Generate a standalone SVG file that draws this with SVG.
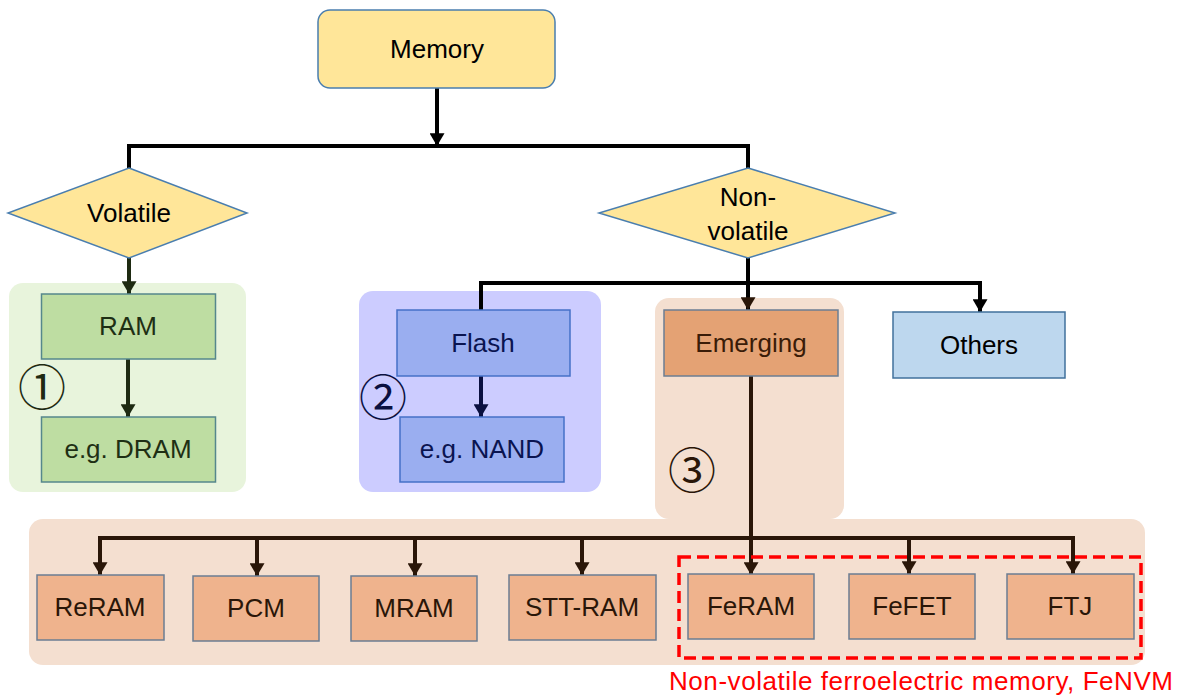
<svg xmlns="http://www.w3.org/2000/svg" width="1182" height="696" viewBox="0 0 1182 696">
<defs>
<style>
.t{font-family:"Liberation Sans",Arial,sans-serif;font-size:26px;text-anchor:middle}
.num{font-family:"Noto Sans CJK KR","DejaVu Sans",sans-serif;font-size:48px;text-anchor:middle}
.yel{fill:#FFE699;stroke:#4A7EAF;stroke-width:1.5}
.grn{fill:#BEDDA2;stroke:#55878C;stroke-width:1.5}
.blu{fill:#9AAEF0;stroke:#4570C8;stroke-width:1.5}
.emg{fill:#E4A274;stroke:#6B7E92;stroke-width:1.5}
.org{fill:#EFB38D;stroke:#6B7E92;stroke-width:1.5}
.oth{fill:#BDD7EE;stroke:#41719C;stroke-width:1.5}
.ln{fill:none;stroke-width:4;stroke-linejoin:miter}
</style>
<marker id="aK" viewBox="0 0 12 14" refX="12" refY="7" markerWidth="13" markerHeight="15" markerUnits="userSpaceOnUse" orient="auto"><path d="M0,0 L12,7 L0,14 z" fill="#000"/></marker>
<marker id="aB" viewBox="0 0 12 14" refX="12" refY="7" markerWidth="13" markerHeight="15" markerUnits="userSpaceOnUse" orient="auto"><path d="M0,0 L12,7 L0,14 z" fill="#2A1608"/></marker>
<marker id="aG" viewBox="0 0 12 14" refX="12" refY="7" markerWidth="13" markerHeight="15" markerUnits="userSpaceOnUse" orient="auto"><path d="M0,0 L12,7 L0,14 z" fill="#1E2A12"/></marker>
<marker id="aN" viewBox="0 0 12 14" refX="12" refY="7" markerWidth="13" markerHeight="15" markerUnits="userSpaceOnUse" orient="auto"><path d="M0,0 L12,7 L0,14 z" fill="#0A1040"/></marker>
</defs>
<rect width="1182" height="696" fill="#fff"/>

<g id="backgrounds">
<rect x="9" y="283" width="237" height="209" rx="14" fill="#E8F4DC"/>
<rect x="359" y="291" width="242" height="201" rx="14" fill="#CCCCFF"/>
<rect x="655" y="298" width="189" height="221" rx="14" fill="#F4DFD0"/>
<rect x="29" y="519" width="1116" height="146" rx="14" fill="#F4DFD0"/>
</g>

<g id="connectors">
<path class="ln" stroke="#000" d="M437,88 V146" marker-end="url(#aK)"/>
<path class="ln" stroke="#000" d="M129,168 V146 H748 V168"/>
<path class="ln" stroke="#1E2A12" d="M129,258 V294" marker-end="url(#aG)"/>
<path class="ln" stroke="#1E2A12" d="M128,359 V417" marker-end="url(#aG)"/>
<path class="ln" stroke="#000" d="M748,258 V310" marker-end="url(#aB)"/>
<path class="ln" stroke="#000" d="M481,310 V283 H980 V312" marker-end="url(#aK)"/>
<path class="ln" stroke="#0A1040" d="M481,376 V417" marker-end="url(#aN)"/>
<path class="ln" stroke="#2A1608" d="M751,376 V575" marker-end="url(#aB)"/>
<path class="ln" stroke="#2A1608" d="M100,575 V538 H1073 V574" marker-end="url(#aB)"/>
<path class="ln" stroke="#2A1608" d="M100,538 V575" marker-end="url(#aB)"/>
<path class="ln" stroke="#2A1608" d="M257,538 V576" marker-end="url(#aB)"/>
<path class="ln" stroke="#2A1608" d="M415,538 V576" marker-end="url(#aB)"/>
<path class="ln" stroke="#2A1608" d="M582,538 V575" marker-end="url(#aB)"/>
<path class="ln" stroke="#2A1608" d="M909,538 V574" marker-end="url(#aB)"/>
</g>

<g id="memory"><rect class="yel" x="318" y="10" width="237" height="78" rx="12"/><text class="t" x="437" y="58" fill="#000">Memory</text></g>
<g id="volatile"><polygon class="yel" points="129,168 247,213 129,258 8,213"/><text class="t" x="129" y="222" fill="#000">Volatile</text></g>
<g id="nonvolatile"><polygon class="yel" points="748,168 895,213 748,258 599,213"/><text class="t" x="748" y="206" fill="#000">Non-</text><text class="t" x="748" y="240" fill="#000">volatile</text></g>

<g id="ram"><rect class="grn" x="41.5" y="294" width="174" height="65"/><text class="t" x="128" y="335" fill="#1E2F14">RAM</text></g>
<g id="dram"><rect class="grn" x="41.5" y="417" width="174" height="65"/><text class="t" x="128" y="458" fill="#1E2F14">e.g. DRAM</text></g>
<g id="flash"><rect class="blu" x="397" y="310" width="173" height="66"/><text class="t" x="483" y="352" fill="#0A1450">Flash</text></g>
<g id="nand"><rect class="blu" x="400" y="417" width="164" height="65"/><text class="t" x="482" y="458" fill="#0A1450">e.g. NAND</text></g>
<g id="emerging"><rect class="emg" x="664" y="310" width="174" height="66"/><text class="t" x="751" y="352" fill="#3A1C08">Emerging</text></g>
<g id="others"><rect class="oth" x="893" y="312" width="172" height="66"/><text class="t" x="979" y="354" fill="#000">Others</text></g>

<g id="reram"><rect class="org" x="37" y="575" width="127" height="65"/><text class="t" x="100" y="616" fill="#2A1608">ReRAM</text></g>
<g id="pcm"><rect class="org" x="193" y="576" width="126" height="65"/><text class="t" x="256" y="617" fill="#2A1608">PCM</text></g>
<g id="mram"><rect class="org" x="351" y="576" width="126" height="65"/><text class="t" x="414" y="617" fill="#2A1608">MRAM</text></g>
<g id="sttram"><rect class="org" x="509" y="575" width="147" height="65"/><text class="t" x="582" y="616" fill="#2A1608">STT-RAM</text></g>
<g id="feram"><rect class="org" x="688" y="574" width="126" height="65"/><text class="t" x="751" y="615" fill="#2A1608">FeRAM</text></g>
<g id="fefet"><rect class="org" x="849" y="574" width="126" height="65"/><text class="t" x="912" y="615" fill="#2A1608">FeFET</text></g>
<g id="ftj"><rect class="org" x="1007" y="574" width="127" height="65"/><text class="t" x="1070" y="615" fill="#2A1608">FTJ</text></g>

<g id="labels">
<text class="num" x="42" y="405" fill="#1E2A12">①</text>
<text class="num" x="383" y="415" fill="#0A1040">②</text>
<text class="num" x="692" y="488" fill="#2A1608">③</text>
</g>

<g id="fenvm">
<rect x="679" y="557" width="462" height="101" fill="none" stroke="#FF0000" stroke-width="3.5" stroke-dasharray="12 6"/>
<text x="669" y="690" font-family="'Liberation Sans',Arial,sans-serif" font-size="26" fill="#FF0000" textLength="504" lengthAdjust="spacing">Non-volatile ferroelectric memory, FeNVM</text>
</g>
</svg>
